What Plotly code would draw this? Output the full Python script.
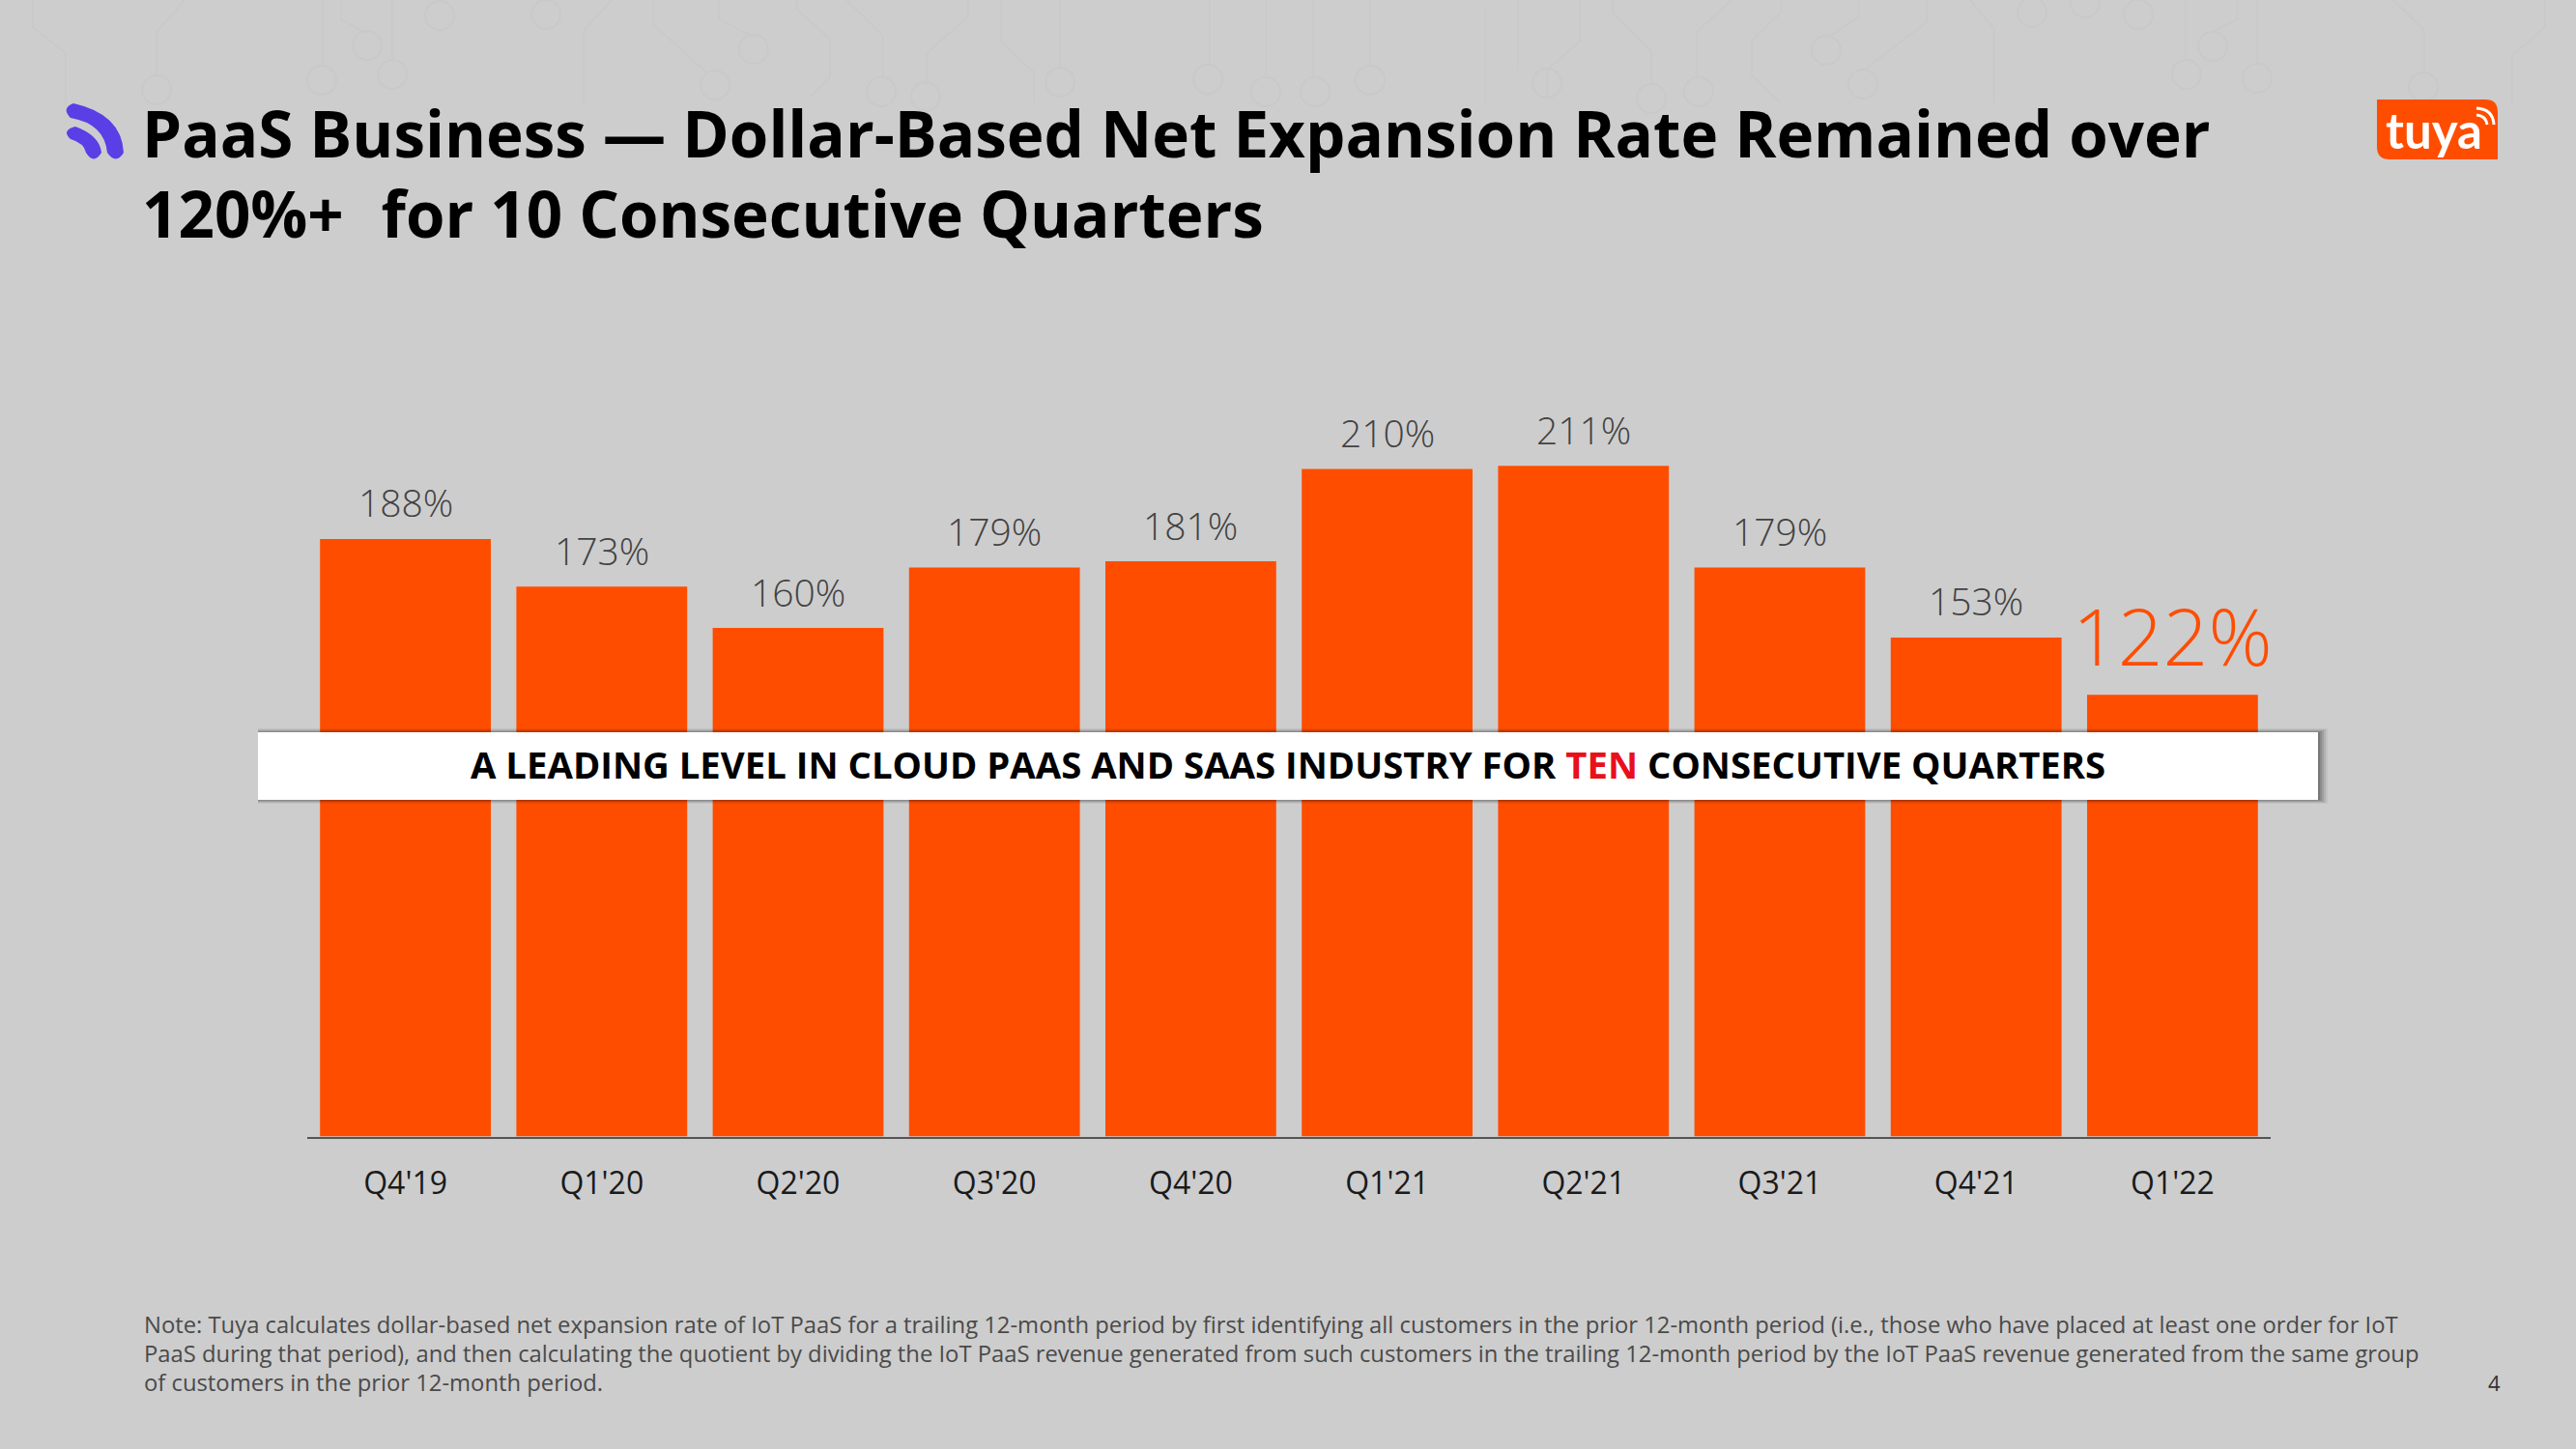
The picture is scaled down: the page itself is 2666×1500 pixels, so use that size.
import plotly.graph_objects as go

W, H = 2666, 1500
BG = "#cdcdcd"
ORANGE = "#ff4d00"
FONT = "Open Sans"

quarters = ["Q4'19", "Q1'20", "Q2'20", "Q3'20", "Q4'20", "Q1'21", "Q2'21", "Q3'21", "Q4'21", "Q1'22"]
# Drawn bar heights as they appear in the picture (last two bars are not to scale with their labels)
bar_heights = [188, 173, 160, 179, 181, 210, 211, 179, 157, 139]
value_labels = ["188%", "173%", "160%", "179%", "181%", "210%", "211%", "179%", "153%", "122%"]
label_sizes = [39, 39, 39, 39, 39, 39, 39, 39, 39, 82]
label_colors = ["#424242"] * 9 + [ORANGE]
label_offsets = [38, 38, 38, 38, 38, 38, 38, 38, 38, 62]

title_lines = ["PaaS Business — Dollar-Based Net Expansion Rate Remained over",
               "120%+\u2009\u2009 for 10 Consecutive Quarters"]
banner_text = ("A LEADING LEVEL IN CLOUD PAAS AND SAAS INDUSTRY FOR "
               "<span style='color:#e8101a'>TEN</span> CONSECUTIVE QUARTERS")
note_lines = [
    "Note: Tuya calculates dollar-based net expansion rate of IoT PaaS for a trailing 12-month period by first identifying all customers in the prior 12-month period (i.e., those who have placed at least one order for IoT",
    "PaaS during that period), and then calculating the quotient by dividing the IoT PaaS revenue generated from such customers in the trailing 12-month period by the IoT PaaS revenue generated from the same group",
    "of customers in the prior 12-month period.",
]
page_number = "4"

# faint circuit decoration in the top strip of the slide background
decor_lines = [
    [(34, 0), (34, 28), (68, 55), (68, 107)], [(191, 0), (162, 33), (162, 78)], [(334, 0), (334, 67)],
    [(353, 0), (353, 20), (380, 35)], [(406, 0), (406, 63)], [(633, 0), (604, 32), (604, 107)],
    [(676, 0), (676, 25), (731, 75)], [(744, 0), (744, 20), (778, 37)],
    [(825, 0), (825, 10), (859, 40), (859, 80), (838, 100)], [(876, 0), (914, 37), (914, 80)],
    [(1002, 0), (1002, 17), (959, 55), (959, 88)], [(1036, 0), (1036, 43), (1070, 75), (1070, 107)],
    [(1097, 0), (1097, 72)], [(1252, 0), (1252, 67)], [(1310, 0), (1310, 80)],
    [(1359, 0), (1359, 80)], [(1418, 0), (1418, 67)], [(1537, 7), (1537, 107)], [(1571, 0), (1571, 72)],
    [(1635, 0), (1635, 43), (1601, 72), (1601, 100)], [(1669, 0), (1669, 13), (1709, 53), (1709, 88)],
    [(1792, 0), (1756, 33), (1756, 80)], [(1843, 0), (1843, 13), (1813, 42), (1813, 78), (1843, 107)],
    [(1924, 0), (1924, 17), (1890, 40)], [(1994, 0), (1994, 23), (1928, 73)],
    [(2039, 0), (2064, 30), (2064, 107)], [(2262, 0), (2262, 63)], [(2315, 0), (2315, 20), (2290, 33)],
    [(2336, 0), (2336, 67)], [(2477, 0), (2509, 32), (2509, 80)],
    [(2634, 0), (2634, 28), (2600, 57), (2600, 107)],
]
decor_rings = [
    (455, 16), (565, 15), (380, 47), (406, 77), (333, 83), (162, 93), (780, 51), (740, 88), (912, 95),
    (958, 100), (1097, 85), (1250, 82), (1310, 95), (1418, 83), (1361, 95), (1601, 86), (1709, 102),
    (1758, 95), (1890, 52), (1928, 87), (2103, 13), (2158, 3), (2213, 15), (2290, 48), (2263, 77),
    (2336, 81), (2508, 90),
]


def px(x):
    return x / W


def py(y):
    return 1 - y / H


def path(*cmds):
    out = []
    for c in cmds:
        if isinstance(c, str):
            out.append(c)
        else:
            out.append(f"{px(c[0]):.5f},{py(c[1]):.5f}")
    return " ".join(out)


def rect(x0, y0, x1, y1, fill, opacity=1.0):
    return dict(type="rect", xref="paper", yref="paper", x0=px(x0), x1=px(x1), y0=py(y1), y1=py(y0),
                fillcolor=fill, opacity=opacity, line_width=0, layer="above")


def text(x, y, s, size, color="#000000", anchor="left", weight=None, family=FONT):
    f = dict(family=family, size=size, color=color)
    if weight:
        f["weight"] = weight
    return dict(xref="paper", yref="paper", x=px(x), y=py(y), text=s, showarrow=False, font=f,
                xanchor=anchor, yanchor="middle", align="left")


fig = go.Figure(go.Bar(x=quarters, y=bar_heights, marker=dict(color=ORANGE, line_width=0),
                       cliponaxis=False, hoverinfo="skip"))

shapes = []
# background decoration
for pts in decor_lines:
    cmds = ["M", pts[0]]
    for p in pts[1:]:
        cmds += ["L", p]
    shapes.append(dict(type="path", xref="paper", yref="paper", layer="below",
                       line=dict(color="#c9c9c9", width=1.5), path=path(*cmds)))
for cx, cy in decor_rings:
    shapes.append(dict(type="circle", xref="paper", yref="paper", layer="below",
                       x0=px(cx - 15), x1=px(cx + 15), y0=py(cy + 15), y1=py(cy - 15),
                       line=dict(color="#c9c9c9", width=2)))

# banner with soft shadow
for right, vert, op in ((10, 4, 0.05), (8, 3, 0.08), (6, 2, 0.10), (4, 1, 0.12), (2, 0, 0.14)):
    shapes.append(rect(267, 758 - vert, 2399 + right, 828 + vert, "#000000", op))
shapes.append(rect(267, 758, 2399, 828, "#ffffff"))

# purple icon
PURPLE = "#5a3fe6"
shapes.append(dict(type="path", xref="paper", yref="paper", fillcolor=PURPLE, line_width=0, layer="above",
                   path=path("M", (76, 107), "Q", (126, 118), (128, 158), "Q", (120, 171), (111, 158),
                             "Q", (108, 128), (73, 122), "Q", (63, 112), (76, 107), "Z")))
shapes.append(dict(type="path", xref="paper", yref="paper", fillcolor=PURPLE, line_width=0, layer="above",
                   path=path("M", (78, 131), "Q", (103, 140), (105, 158), "Q", (97, 171), (89, 158),
                             "Q", (87, 148), (73, 144), "Q", (63, 135), (78, 131), "Z")))
# logo tag
shapes.append(dict(type="path", xref="paper", yref="paper", fillcolor=ORANGE, line_width=0, layer="above",
                   path=path("M", (2460, 103), "L", (2572, 103), "Q", (2585, 103), (2585, 116), "L", (2585, 165),
                             "L", (2473, 165), "Q", (2460, 165), (2460, 152), "Z")))
for a, b, c in (((2563, 119), (2573, 120), (2574, 129)), ((2563, 112), (2580, 113), (2581, 129))):
    shapes.append(dict(type="path", xref="paper", yref="paper", line=dict(color="#ffffff", width=3), layer="above",
                       path=path("M", a, "Q", b, c)))

anns = [
    text(145, 137, title_lines[0], 65.5, weight=700),
    text(145, 220, title_lines[1], 65.5, weight=700),
    text(1333, 791, banner_text, 38.3, anchor="center", weight=700),
    text(2519, 134, "tuya", 51, "#ffffff", anchor="center", weight=700, family="Lato"),
    text(2590, 1431, page_number, 22, "#333333", anchor="right"),
]
for i, line in enumerate(note_lines):
    anns.append(text(147, 1371 + i * 30, line, 23.8, "#4a4a4a"))
for q, h, s, sz, col, off in zip(quarters, bar_heights, value_labels, label_sizes, label_colors, label_offsets):
    anns.append(dict(xref="x", yref="y", x=q, y=h, text=s, showarrow=False, yanchor="middle", yshift=off,
                     font=dict(family=FONT, size=sz, color=col, weight=300)))

fig.update_layout(
    width=W, height=H, autosize=False, margin=dict(l=0, r=0, t=0, b=0),
    paper_bgcolor=BG, plot_bgcolor="rgba(0,0,0,0)", showlegend=False, bargap=0.13,
    xaxis=dict(domain=[px(318), px(2350)], type="category", showgrid=False, ticks="", range=[-0.5, 9.5],
               showline=True, linecolor="#555555", linewidth=2, tickfont=dict(family=FONT, size=32, color="#1a1a1a"),
               ticklabelstandoff=19),
    yaxis=dict(domain=[py(1176.5), py(400)], range=[0, 776.5 / 3.29], visible=False),
    shapes=shapes, annotations=anns, font=dict(family=FONT),
)
fig.write_html("out.html", post_script="document.body.style.margin='0';document.documentElement.style.overflow='hidden';",
               config=dict(displayModeBar=False))
